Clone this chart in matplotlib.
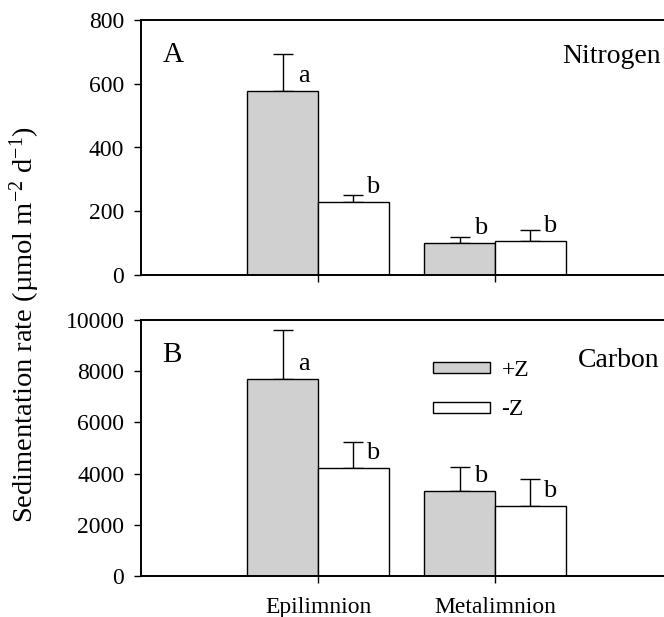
import matplotlib
matplotlib.use("Agg")
import matplotlib.pyplot as plt
import numpy as np
from matplotlib.patches import Rectangle
from matplotlib.legend_handler import HandlerPatch

plt.rcParams['font.family'] = ['Liberation Serif', 'DejaVu Serif']
plt.rcParams['mathtext.fontset'] = 'custom'
plt.rcParams['mathtext.rm'] = 'Liberation Serif'
plt.rcParams['mathtext.it'] = 'Liberation Serif:italic'

categories = ["Epilimnion", "Metalimnion"]
series = ["+Z", "-Z"]

# Panel A: nitrogen
n_plus = [578, 100]
n_minus = [230, 106]
n_plus_err = [115, 20]
n_minus_err = [21, 34]
n_letters_plus = ["a", "b"]
n_letters_minus = ["b", "b"]

# Panel B: carbon
c_plus = [7690, 3320]
c_minus = [4220, 2740]
c_plus_err = [1930, 935]
c_minus_err = [1030, 1040]
c_letters_plus = ["a", "b"]
c_letters_minus = ["b", "b"]

n_ticks = [0, 200, 400, 600, 800]
c_ticks = [0, 2000, 4000, 6000, 8000, 10000]

W, H = 664, 617
fig = plt.figure(figsize=(W / 100, H / 100), dpi=100)

def px_axes(left, top, right, bottom):
    return fig.add_axes([left / W, 1 - bottom / H, (right - left) / W, (bottom - top) / H])

axA = px_axes(141, 20, 672, 275)
axB = px_axes(141, 320, 672, 576)

gray = '#d0d0d0'
x = np.arange(1, len(categories) + 1)
bw = 0.4

def draw(ax, plus, minus, perr, merr, lp, lm, ticks, ymax):
    b1 = ax.bar(x - bw / 2, plus, bw, color=gray, edgecolor='black', linewidth=1.0, label=series[0], zorder=2)
    b2 = ax.bar(x + bw / 2, minus, bw, color='white', edgecolor='black', linewidth=1.0, label=series[1], zorder=2)
    ax.errorbar(x - bw / 2, plus, yerr=[np.zeros(len(plus)), perr], fmt='none', ecolor='black',
                elinewidth=1.0, capsize=7, capthick=1.0, zorder=1)
    ax.errorbar(x + bw / 2, minus, yerr=[np.zeros(len(minus)), merr], fmt='none', ecolor='black',
                elinewidth=1.0, capsize=7, capthick=1.0, zorder=1)
    for xi, v, t in zip(x - bw / 2, plus, lp):
        ax.annotate(t, (xi, v), xytext=(21, 9), textcoords='offset pixels', ha='center', va='baseline', fontsize=19)
    for xi, v, t in zip(x + bw / 2, minus, lm):
        ax.annotate(t, (xi, v), xytext=(19, 9), textcoords='offset pixels', ha='center', va='baseline', fontsize=19)
    ax.set_xlim(0, 3)
    ax.set_ylim(0, ymax)
    ax.set_yticks(ticks)
    ax.set_xticks(x)
    ax.spines['right'].set_visible(False)
    for s in ['left', 'top', 'bottom']:
        ax.spines[s].set_linewidth(1.4)
    ax.tick_params(axis='both', direction='out', length=5, width=1.0, labelsize=17)
    ax.tick_params(axis='y', pad=7)
    return b1, b2

draw(axA, n_plus, n_minus, n_plus_err, n_minus_err, n_letters_plus, n_letters_minus, n_ticks, 800)
b1, b2 = draw(axB, c_plus, c_minus, c_plus_err, c_minus_err, c_letters_plus, c_letters_minus, c_ticks, 10000)

axA.text(0.041, 0.835, "A", transform=axA.transAxes, fontsize=21, ha='left', va='baseline')
axA.text(0.887, 0.831, "Nitrogen", transform=axA.transAxes, fontsize=20, ha='center', va='baseline')
axB.text(0.040, 0.837, "B", transform=axB.transAxes, fontsize=21, ha='left', va='baseline')
axB.text(0.900, 0.818, "Carbon", transform=axB.transAxes, fontsize=20, ha='center', va='baseline')

axA.set_xticklabels([])
axB.set_xticklabels(categories)
axB.tick_params(axis='x', pad=10)


def make_rect(legend, orig_handle, xdescent, ydescent, width, height, fontsize):
    h = height * 0.62
    return Rectangle((-xdescent, -ydescent + (height - h) / 2), width, h)


axB.legend(handles=[b1.patches[0], b2.patches[0]], labels=series, loc='upper left',
           bbox_to_anchor=(433 / W, 1 - 359 / H), bbox_transform=fig.transFigure,
           frameon=False, fontsize=17, handlelength=2.4, handleheight=0.75, handletextpad=0.5,
           labelspacing=0.75, borderpad=0, borderaxespad=0,
           handler_map={Rectangle: HandlerPatch(patch_func=make_rect)})

fig.text(25 / W, 1 - 325 / H, "Sedimentation rate (\u00b5mol m$^{-2}$ d$^{-1}$)", rotation=90,
         ha='center', va='center', fontsize=20.5)

fig.savefig("out.png", dpi=100)
